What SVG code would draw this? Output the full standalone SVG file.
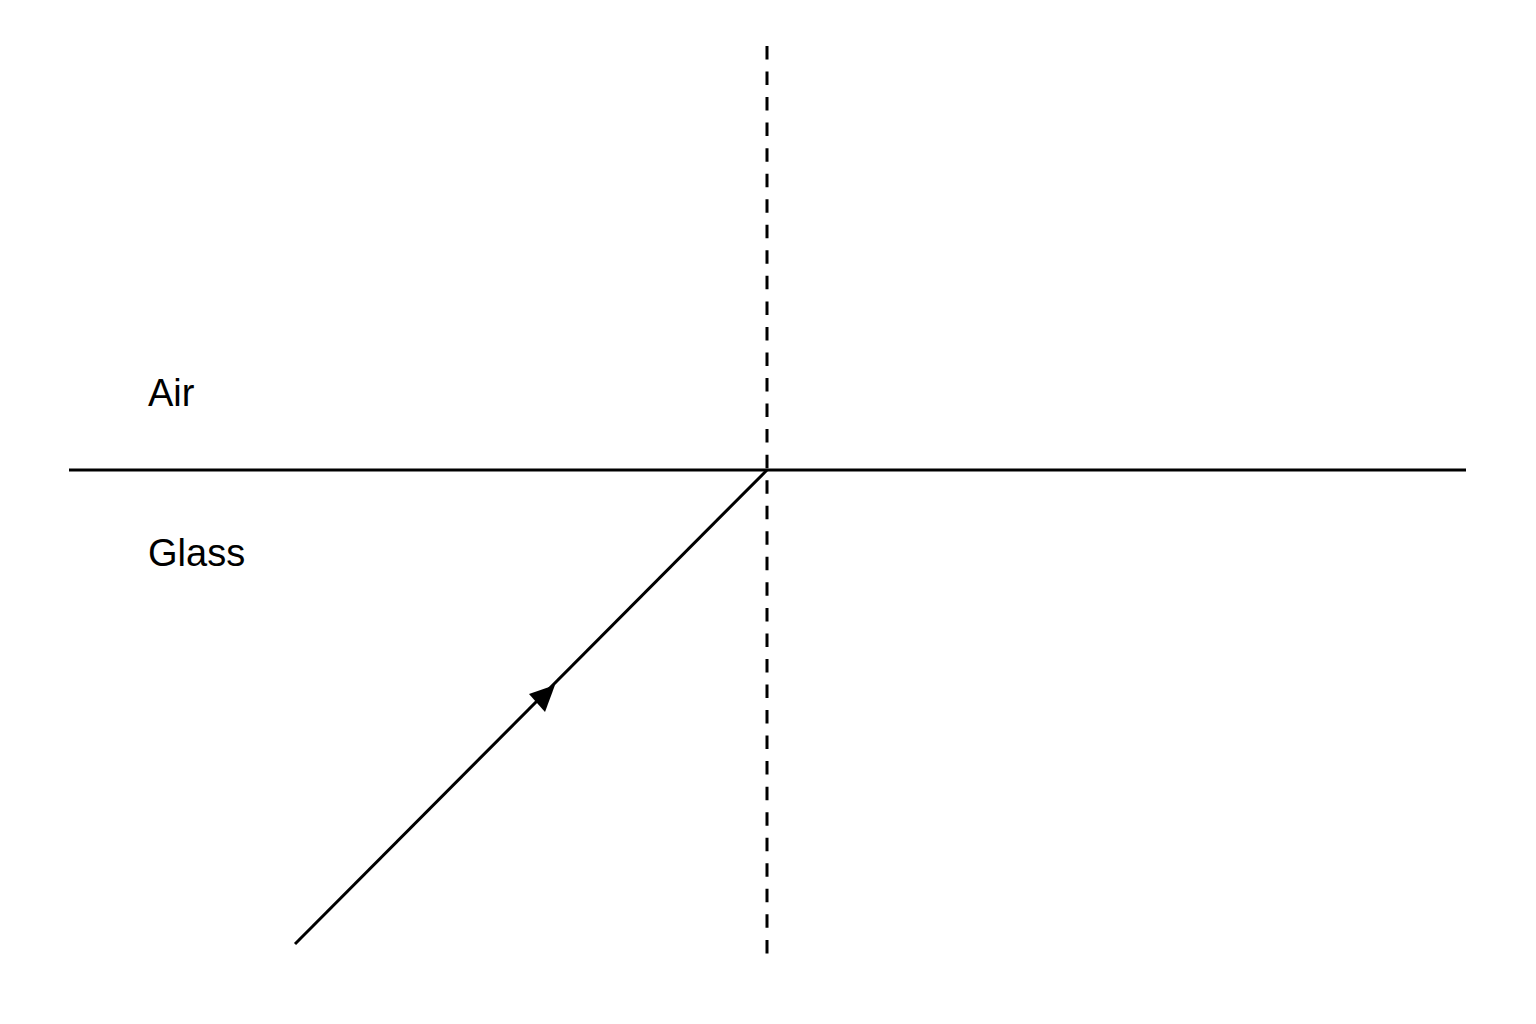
<svg xmlns="http://www.w3.org/2000/svg" width="1536" height="1024" viewBox="0 0 1536 1024">
<style>
.line{stroke:#000;stroke-width:3;fill:none}
.normal{stroke:#000;stroke-width:3;stroke-dasharray:13.5 12.04;fill:none}
.lbl{font-family:"Liberation Sans",Arial,sans-serif;font-size:38px;fill:#000}
</style>
<rect width="1536" height="1024" fill="#fff"/>
<g id="boundary"><line class="line" x1="69" y1="470" x2="1466" y2="470"/></g>
<g id="normal"><line class="normal" x1="767" y1="46" x2="767" y2="954"/></g>
<g id="labels">
<text class="lbl" x="148" y="406">Air</text>
<text class="lbl" x="148" y="566">Glass</text>
</g>
<g id="connectors">
<line class="line" x1="295" y1="944" x2="767" y2="470"/>
<polygon points="555,685 529,694 545,712" fill="#000"/>
</g>
</svg>
